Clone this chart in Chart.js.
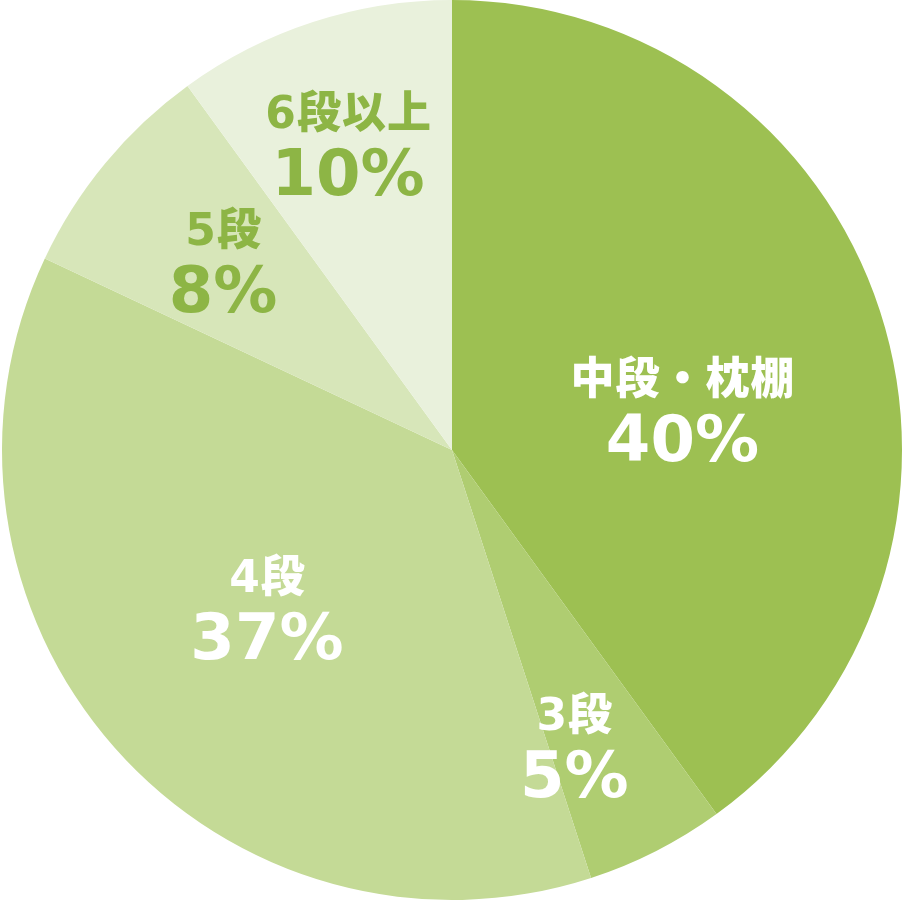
<!DOCTYPE html>
<html>
<head>
<meta charset="utf-8">
<script src="https://cdn.jsdelivr.net/npm/chart.js@4.4.0/dist/chart.umd.min.js"></script>
<style>
html,body{margin:0;padding:0;background:#fff;}
#wrap{width:904px;height:900px;}
</style>
</head>
<body>
<div id="wrap"><canvas id="c" width="904" height="900"></canvas></div>
<script>
const categories = ["中段・枕棚", "3段", "4段", "5段", "6段以上"];
const values = [40, 5, 37, 8, 10];
const percentLabels = ["40%", "5%", "37%", "8%", "10%"];
const sliceColors = ["#9dc052", "#afcd71", "#c4da96", "#d7e6b9", "#e9f1dc"];
const textColors = ["#ffffff", "#ffffff", "#ffffff", "#8db545", "#8db545"];
// label placement: fraction of radius, angle offset (deg)
const labelRadius = [0.52, 0.71, 0.54, 0.66, 0.72];
const labelAngleOffset = [8, 4.5, 1, 0, -0.7];

function spacedText(ctx, text, x, y, spacing) {
  ctx.letterSpacing = spacing + 'px';
  ctx.fillText(text, x + spacing / 2, y);
  ctx.letterSpacing = '0px';
}

const labelPlugin = {
  id: 'sliceLabels',
  afterDatasetsDraw(chart) {
    const ctx = chart.ctx;
    const meta = chart.getDatasetMeta(0);
    meta.data.forEach((arc, i) => {
      const mid = (arc.startAngle + arc.endAngle) / 2 + labelAngleOffset[i] * Math.PI / 180;
      const r = arc.outerRadius * labelRadius[i];
      const x = arc.x + Math.cos(mid) * r;
      const y = arc.y + Math.sin(mid) * r;
      ctx.save();
      ctx.fillStyle = textColors[i];
      ctx.textAlign = 'center';
      ctx.textBaseline = 'middle';
      ctx.font = '900 44px "DejaVu Sans", "Noto Sans CJK JP"';
      spacedText(ctx, categories[i], x, y - 27, 1);
      ctx.font = '700 64px "DejaVu Sans"';
      ctx.fillText(percentLabels[i], x, y + 35);
      ctx.restore();
    });
  }
};

new Chart(document.getElementById('c'), {
  type: 'pie',
  data: {
    labels: categories,
    datasets: [{
      data: values,
      backgroundColor: sliceColors,
      borderWidth: 0
    }]
  },
  options: {
    responsive: false,
    animation: false,
    layout: { padding: 0 },
    plugins: { legend: { display: false }, tooltip: { enabled: false } }
  },
  plugins: [labelPlugin]
});
</script>
</body>
</html>
